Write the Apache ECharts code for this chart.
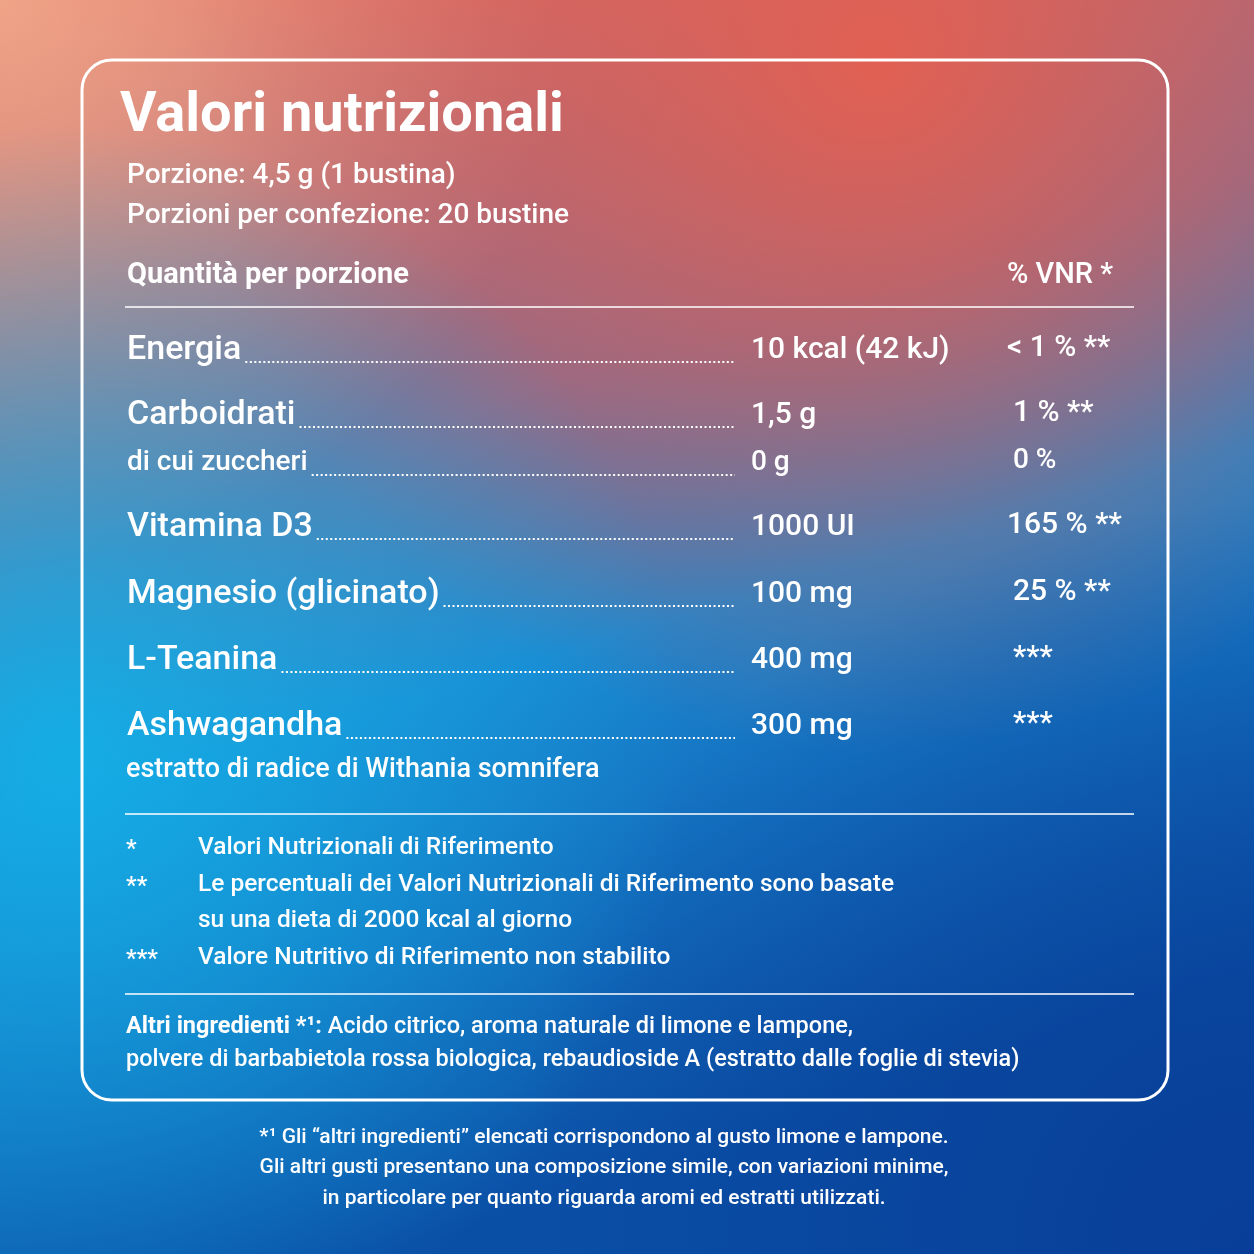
<!DOCTYPE html>
<html><head><meta charset="utf-8">
<script src="https://cdn.jsdelivr.net/npm/echarts@6/dist/echarts.min.js"></script>
<style>html,body{margin:0;padding:0;}#c{width:1254px;height:1254px;}</style>
</head><body><div id="c"></div>
<script>
const title = "Valori nutrizionali";
const servingLines = ["Porzione: 4,5 g (1 bustina)", "Porzioni per confezione: 20 bustine"];
const headerLeft = "Quantità per porzione";
const headerRight = "% VNR *";
const rowNames = ["Energia", "Carboidrati", "di cui zuccheri", "Vitamina D3", "Magnesio (glicinato)", "L-Teanina", "Ashwagandha"];
const rowAmounts = ["10 kcal (42 kJ)", "1,5 g", "0 g", "1000 UI", "100 mg", "400 mg", "300 mg"];
const rowVnr = ["< 1 % **", "1 % **", "0 %", "165 % **", "25 % **", "***", "***"];
const rowSub = [false, false, true, false, false, false, false];
const ashwaNote = "estratto di radice di Withania somnifera";
const footMarks = ["*", "**", "", "***"];
const footTexts = ["Valori Nutrizionali di Riferimento", "Le percentuali dei Valori Nutrizionali di Riferimento sono basate", "su una dieta di 2000 kcal al giorno", "Valore Nutritivo di Riferimento non stabilito"];
const otherLabel = "Altri ingredienti *¹:";
const otherLines = [" Acido citrico, aroma naturale di limone e lampone,", "polvere di barbabietola rossa biologica, rebaudioside A (estratto dalle foglie di stevia)"];
const bottomNotes = ["*¹ Gli “altri ingredienti” elencati corrispondono al gusto limone e lampone.", "Gli altri gusti presentano una composizione simile, con variazioni minime,", "in particolare per quanto riguarda aromi ed estratti utilizzati."];

const FF = "Roboto, sans-serif";
const cv = document.createElement('canvas').getContext('2d');
function tw(t, size, w) { cv.font = (w||'500') + ' ' + size + 'px ' + FF; return cv.measureText(t).width; }

const W = '#ffffff';
const g = [];
g.push({type:'rect', shape:{x:0,y:0,width:1254,height:1254}, style:{fill:{type:'linear',x:0,y:0,x2:0.3,y2:1,colorStops:[{offset:0,color:'#e4685c'},{offset:0.4,color:'#7a6e98'},{offset:0.6,color:'#1a86d0'},{offset:1,color:'#0a4fa6'}]}}});
g.push({type:'rect', shape:{x:0,y:0,width:1254,height:1254}, style:{fill:{type:'radial',x:0,y:0,r:0.45,colorStops:[{offset:0,color:'rgba(240,170,140,0.9)'},{offset:1,color:'rgba(240,170,140,0)'}]}}});
g.push({type:'rect', shape:{x:0,y:0,width:1254,height:1254}, style:{fill:{type:'radial',x:0.7,y:0.05,r:0.55,colorStops:[{offset:0,color:'rgba(228,95,80,0.95)'},{offset:1,color:'rgba(228,95,80,0)'}]}}});
g.push({type:'rect', shape:{x:0,y:0,width:1254,height:1254}, style:{fill:{type:'radial',x:0.05,y:0.6,r:0.5,colorStops:[{offset:0,color:'rgba(20,175,230,0.95)'},{offset:1,color:'rgba(20,175,230,0)'}]}}});
g.push({type:'rect', shape:{x:0,y:0,width:1254,height:1254}, style:{fill:{type:'radial',x:1,y:1,r:0.6,colorStops:[{offset:0,color:'rgba(8,60,150,0.9)'},{offset:1,color:'rgba(8,60,150,0)'}]}}});
g.push({type:'rect', shape:{x:82,y:60,width:1086,height:1040,r:30}, style:{fill:'none',stroke:W,lineWidth:3}});
function txt(x,y,t,size,opts){ opts=opts||{}; g.push({type:'text', x:x, y:y, style:{text:t, fill:W, font:(opts.w||'500')+' '+size+'px '+FF, textAlign:opts.align||'left', textVerticalAlign:'middle'}}); }
function hl(y){ g.push({type:'line', shape:{x1:125,y1:y,x2:1134,y2:y}, style:{stroke:W,lineWidth:1.5}}); }
txt(120,117,title,56,{w:'bold'});
txt(127,176,servingLines[0],28);
txt(127,216,servingLines[1],28);
txt(127,276,headerLeft,29,{w:'bold'});
txt(1007,276,headerRight,29);
hl(307);
const rowY = [350,415,463,527,594,660,726];
rowNames.forEach((n,i)=>{
  const s = rowSub[i] ? 28 : 34;
  const y = rowY[i];
  txt(127,y,n,s);
  const x0 = 127 + tw(n,s) + 4;
  g.push({type:'line', shape:{x1:x0,y1:y+12,x2:735,y2:y+12}, style:{stroke:W,lineWidth:2,lineDash:[2,2.5]}});
  txt(751,y,rowAmounts[i],rowSub[i]?28:30);
  txt(rowVnr[i].startsWith('<')||rowVnr[i].length>7?1007:1013,y-2,rowVnr[i],rowSub[i]?28:30);
});
txt(126,770,ashwaNote,27);
hl(814);
const fy=[848,885,921,958];
footTexts.forEach((t,i)=>{ if(footMarks[i]) txt(126,fy[i]+2,footMarks[i],24); txt(198,fy[i],t,24.5); });
hl(994);
txt(126,1027,otherLabel,23.5,{w:'bold'});
txt(126+tw(otherLabel,23.5,'bold'),1027,otherLines[0],23.5);
txt(126,1060,otherLines[1],23.5);
[1138,1168,1199].forEach((y,i)=>txt(604,y,bottomNotes[i],21,{align:'center'}));

const chart = echarts.init(document.getElementById('c'));
chart.setOption({animation:false, graphic:{elements:g}});
</script></body></html>
